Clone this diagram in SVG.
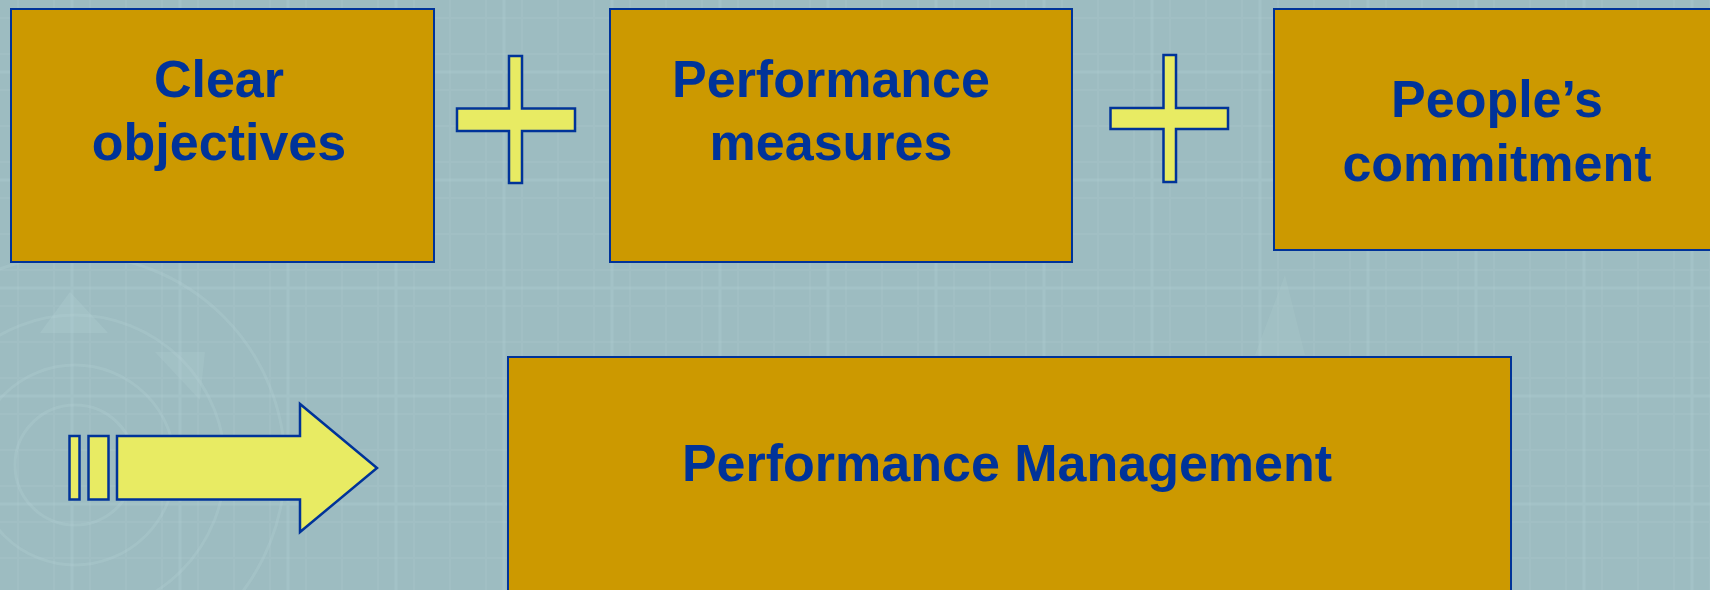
<svg xmlns="http://www.w3.org/2000/svg" width="1710" height="590" viewBox="0 0 1710 590">
  <defs>
    <pattern id="grid" x="0" y="0" width="36" height="36" patternUnits="userSpaceOnUse">
      <path d="M 18 0 V 36 M 0 18 H 36" stroke="#b3d0d4" stroke-width="2" stroke-opacity="0.18" fill="none"/>
    </pattern>
    <pattern id="grid2" x="0" y="0" width="108" height="108" patternUnits="userSpaceOnUse">
      <path d="M 72 0 V 108 M 0 72 H 108" stroke="#b8d6da" stroke-width="3" stroke-opacity="0.22" fill="none"/>
    </pattern>
  </defs>
  <style>
    .box { fill: #CC9900; stroke: #003399; stroke-width: 2; }
    .sym { fill: #E8EB63; stroke: #003399; stroke-width: 2.5; stroke-linejoin: miter; }
    .lbl { font-family: "Liberation Sans", Arial, sans-serif; font-weight: bold; font-size: 52px; fill: #003399; text-anchor: middle; }
    .deco { fill: none; stroke: #b6d3d6; stroke-opacity: 0.25; stroke-width: 3; }
  </style>

  <!-- background -->
  <rect x="0" y="0" width="1710" height="590" fill="#9dbcc1"/>
  <rect x="0" y="0" width="1710" height="590" fill="url(#grid)"/>
  <rect x="0" y="0" width="1710" height="590" fill="url(#grid2)"/>
  <g id="background-decor">
    <circle class="deco" cx="75" cy="465" r="60"/>
    <circle class="deco" cx="75" cy="465" r="100"/>
    <circle class="deco" cx="75" cy="465" r="150"/>
    <circle class="deco" cx="75" cy="465" r="210"/>
    <polygon points="70,292 40,333 108,333" fill="#b3d0d4" fill-opacity="0.3"/>
    <polygon points="155,352 205,352 200,400" fill="#b3d0d4" fill-opacity="0.25"/>
    <polygon points="1285,275 1255,355 1305,355" fill="#b3d0d4" fill-opacity="0.2"/>
  </g>

  <g id="node-clear-objectives">
    <rect class="box" x="11" y="9" width="423" height="253"/>
    <text class="lbl" x="219" y="97">Clear</text>
    <text class="lbl" x="219" y="160">objectives</text>
  </g>

  <g id="node-performance-measures">
    <rect class="box" x="610" y="9" width="462" height="253"/>
    <text class="lbl" x="831" y="97">Performance</text>
    <text class="lbl" x="831" y="160">measures</text>
  </g>

  <g id="node-peoples-commitment">
    <rect class="box" x="1274" y="9" width="450" height="241"/>
    <text class="lbl" x="1497" y="117">People’s</text>
    <text class="lbl" x="1497" y="181">commitment</text>
  </g>

  <g id="node-performance-management">
    <rect class="box" x="508" y="357" width="1003" height="250"/>
    <text class="lbl" x="1007" y="481">Performance Management</text>
  </g>

  <g id="connectors">
    <polygon id="plus-1" class="sym" points="509,56 522,56 522,108.5 575,108.5 575,131 522,131 522,183 509,183 509,131 457,131 457,108.5 509,108.5"/>
    <polygon id="plus-2" class="sym" points="1163.5,55 1176,55 1176,108 1228,108 1228,129 1176,129 1176,182 1163.5,182 1163.5,129 1110.5,129 1110.5,108 1163.5,108"/>
    <g id="striped-arrow">
      <rect class="sym" x="69.5" y="436" width="10" height="63.5"/>
      <rect class="sym" x="88.5" y="436" width="20" height="63.5"/>
      <polygon class="sym" points="117,436 300,436 300,404 377,468 300,532 300,499.5 117,499.5"/>
    </g>
  </g>
</svg>
